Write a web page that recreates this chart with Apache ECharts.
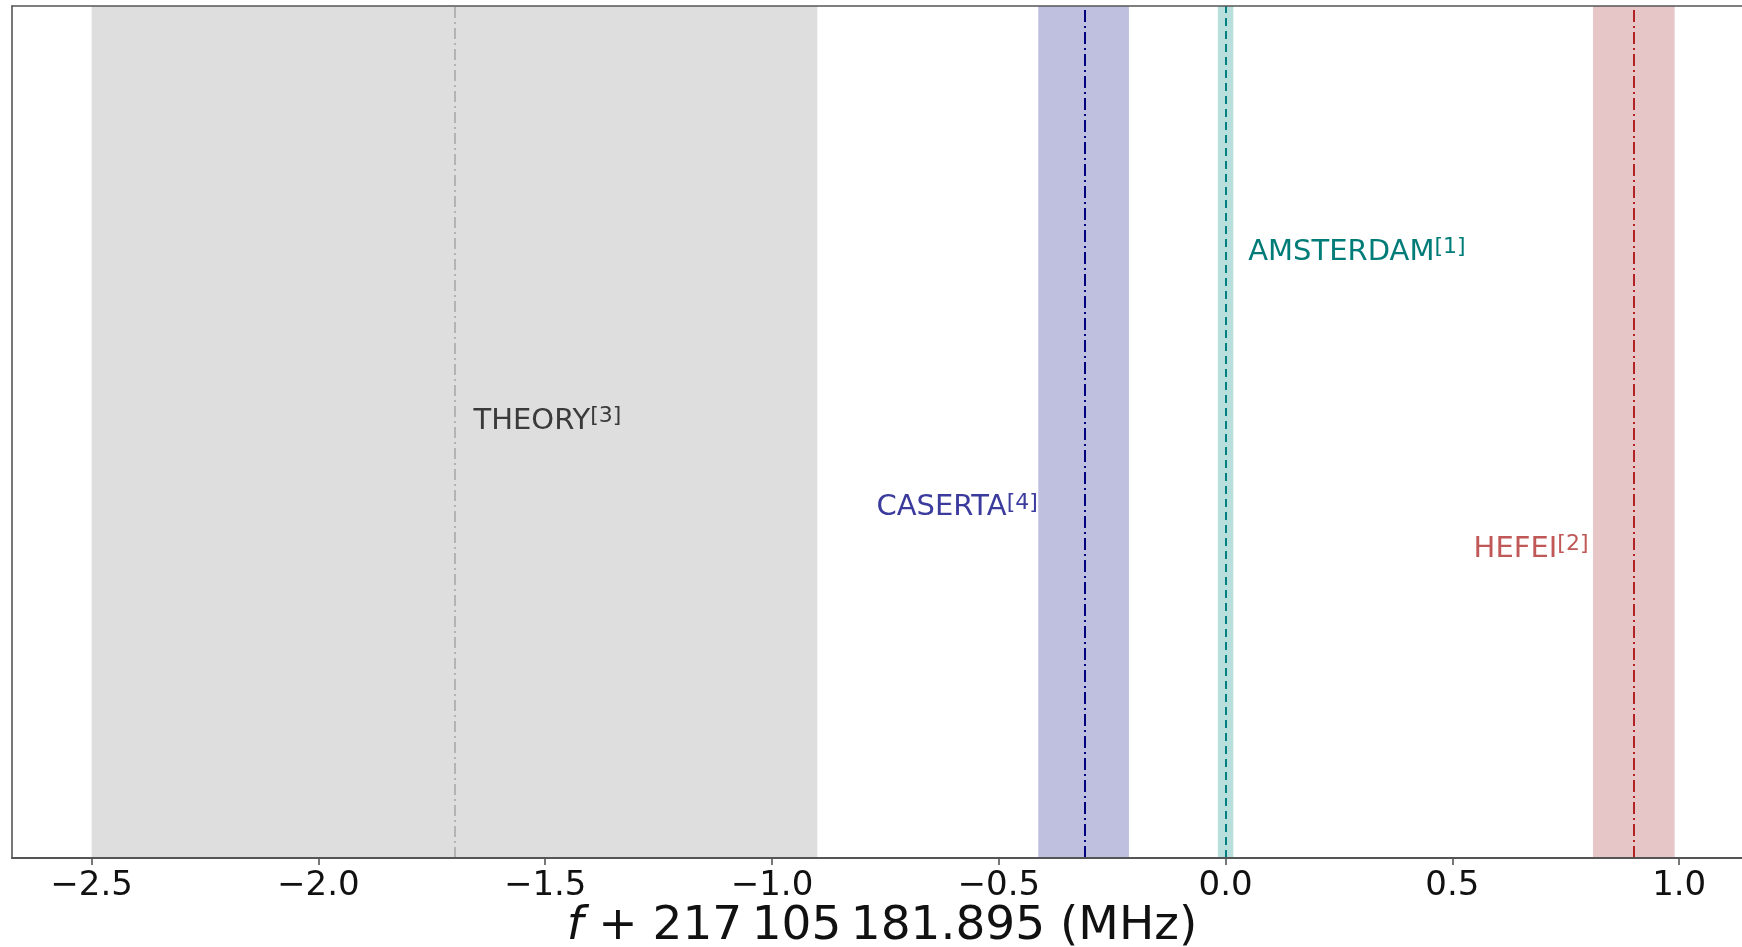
<!DOCTYPE html>
<html>
<head>
<meta charset="utf-8">
<script src="https://cdn.jsdelivr.net/npm/echarts@6/dist/echarts.min.js"></script>
<style>
  html, body { margin: 0; padding: 0; background: #fff; }
  #chart { width: 1742px; height: 947px; }
</style>
</head>
<body>
<div id="chart"></div>
<script>
// measurements (MHz offset)
const names = ['THEORY', 'CASERTA', 'AMSTERDAM', 'HEFEI'];
const refs = ['[3]', '[4]', '[1]', '[2]'];
const centers = [-1.7, -0.313, 0.0, 0.9];
const halfWidths = [0.8, 0.1, 0.017, 0.09];
// label anchor points in data space
const labelX = [-1.658, -0.414, 0.05, 0.80];
const labelY = [0.512, 0.411, 0.711, 0.362];
const tickValues = [-2.5, -2.0, -1.5, -1.0, -0.5, 0.0, 0.5, 1.0];
const xMin = -2.6755;
const xMax = 1.1385;

const bandColors = ['#dedede', '#bfbfdf', '#b8dfdc', '#e7c6c7'];
const lineColors = ['#a9a9a9', '#000080', '#008080', '#b22222'];
const lineTypes = [[11, 4, 2, 4], [12, 4, 2, 4], [8, 5], [12, 4, 2, 4]];
const lineWidths = [1.6, 2, 2, 2];
const textColors = ['#3a3a3a', '#3b3b9e', '#007c78', '#c05858'];
const textSides = ['right', 'left', 'right', 'left'];

const chart = echarts.init(document.getElementById('chart'));
const FONT = 'DejaVu Sans';
const spine = { show: true, onZero: false, lineStyle: { color: '#555', width: 1.6 } };

const option = {
  animation: false,
  grid: { left: 12, right: 0, top: 6, bottom: 89, outerBoundsMode: 'none' },
  xAxis: [
    {
      type: 'value', min: xMin, max: xMax, z: 5,
      axisLine: { show: true, onZero: false, lineStyle: { color: '#555', width: 2 } },
      axisTick: { show: true, customValues: tickValues, length: 7, lineStyle: { color: '#555', width: 1.6 } },
      axisLabel: {
        show: true, customValues: tickValues, margin: 11,
        fontFamily: FONT, fontSize: 34, color: '#111',
        formatter: v => v.toFixed(1).replace('-', '\u2212')
      },
      splitLine: { show: false },
      name: '{i|f} + 217\u2009105\u2009181.895 (MHz)',
      nameLocation: 'middle',
      nameGap: 45,
      nameMoveOverlap: false,
      nameTextStyle: {
        fontFamily: FONT, fontSize: 47, color: '#111', padding: [0, 0, 0, 10],
        rich: { i: { fontFamily: FONT, fontSize: 47, fontStyle: 'italic', color: '#111' } }
      }
    },
    {
      type: 'value', min: xMin, max: xMax, position: 'top', z: 5,
      axisLine: spine, axisTick: { show: false }, axisLabel: { show: false }, splitLine: { show: false }
    }
  ],
  yAxis: {
    type: 'value', min: 0, max: 1, z: 5,
    axisLine: spine, axisTick: { show: false }, axisLabel: { show: false }, splitLine: { show: false }
  },
  series: [
    {
      type: 'scatter', symbolSize: 0, z: 1, silent: true, data: [],
      markArea: {
        silent: true,
        data: centers.map((c, i) => [
          { xAxis: c - halfWidths[i], itemStyle: { color: bandColors[i] } },
          { xAxis: c + halfWidths[i] }
        ])
      }
    },
    {
      type: 'scatter', symbolSize: 0, z: 2, silent: true, data: [],
      markLine: {
        silent: true, symbol: 'none', label: { show: false },
        data: centers.map((c, i) => ({
          xAxis: c,
          lineStyle: { color: lineColors[i], type: lineTypes[i], width: lineWidths[i] }
        }))
      }
    },
    {
      type: 'scatter', symbolSize: 0, z: 3, silent: true,
      data: names.map((n, i) => ({
        value: [labelX[i], labelY[i]],
        label: {
          show: true,
          opacity: 1,
          position: textSides[i],
          distance: 0,
          formatter: '{t|' + n + '}{s|' + refs[i] + '}',
          rich: {
            t: { fontFamily: FONT, fontSize: 29, lineHeight: 32, color: textColors[i] },
            s: { fontFamily: FONT, fontSize: 22, lineHeight: 22, verticalAlign: 'top', color: textColors[i] }
          }
        }
      }))
    }
  ]
};
chart.setOption(option);
</script>
</body>
</html>
